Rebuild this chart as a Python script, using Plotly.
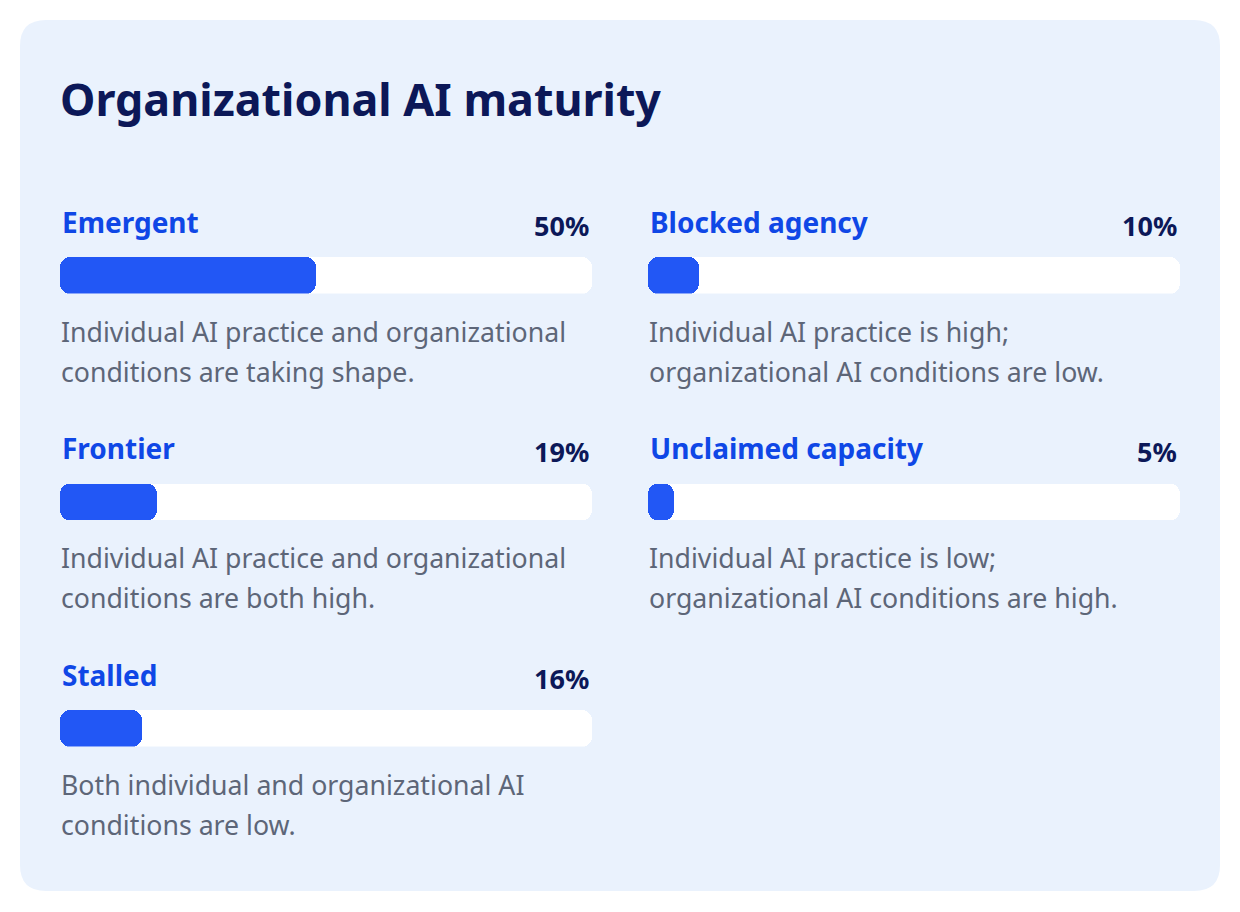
import plotly.graph_objects as go

# ---------------- data ----------------
title_text = "Organizational AI maturity"
categories = ["Emergent", "Frontier", "Stalled", "Blocked agency", "Unclaimed capacity"]
shares = [50, 19, 16, 10, 5]
share_labels = ["50%", "19%", "16%", "10%", "5%"]
desc_line1 = [
    "Individual AI practice and organizational",
    "Individual AI practice and organizational",
    "Both individual and organizational AI",
    "Individual AI practice is high;",
    "Individual AI practice is low;",
]
desc_line2 = [
    "conditions are taking shape.",
    "conditions are both high.",
    "conditions are low.",
    "organizational AI conditions are low.",
    "organizational AI conditions are high.",
]
TRACK_MAX = 104

# ---------------- style ----------------
W, H = 1240, 912
OFF = 8  # page body margin
CARD_BG = "#EAF2FD"
TITLE_COLOR = "#0C1858"
LABEL_COLOR = "#0F47E6"
FILL_COLOR = "#2257F5"
PCT_COLOR = "#0C1858"
DESC_COLOR = "#5D6678"
FONT = "Noto Sans"
RADIUS = 10


def px(x):
    return (x - OFF) / W


def py(y):
    return 1 - (y - OFF) / H


fig = go.Figure()

col_x = [(60, 592), (648, 1180)]
row_step = 226.5
bar_top0 = 257
bar_h = 36.5

annotations = []
axis_count = [0]


def add_bar(value, color, x0, x1, top, hover):
    """One rounded bar from 0 to value, on its own axis pair."""
    axis_count[0] += 1
    k = axis_count[0]
    xa = "x" if k == 1 else f"x{k}"
    ya = "y" if k == 1 else f"y{k}"
    fig.add_trace(go.Bar(x=[value], base=[0], y=[0], orientation="h",
                         xaxis=xa, yaxis=ya,
                         marker=dict(color=color, cornerradius=RADIUS, line=dict(width=0)),
                         hovertemplate=hover, hoverinfo=None if hover else "skip",
                         showlegend=False))
    fig.update_layout(**{
        ("xaxis" if k == 1 else f"xaxis{k}"): dict(domain=[px(x0), px(x1)], range=[0, TRACK_MAX],
                                                   visible=False, fixedrange=True, anchor=ya),
        ("yaxis" if k == 1 else f"yaxis{k}"): dict(domain=[py(top + bar_h), py(top)], range=[-0.5, 0.5],
                                                   visible=False, fixedrange=True, anchor=xa),
    })


for i, cat in enumerate(categories):
    col = 0 if i < 3 else 1
    row = i if i < 3 else i - 3
    x0, x1 = col_x[col]
    top = bar_top0 + row * row_step

    add_bar(TRACK_MAX, "white", x0, x1, top, None)
    add_bar(shares[i], FILL_COLOR, x0, x1, top, f"{cat}: {share_labels[i]}<extra></extra>")

    label_y = top - 35
    annotations.append(dict(text=f"<b>{cat}</b>", x=px(x0), y=py(label_y), xref="paper", yref="paper",
                            xanchor="left", yanchor="middle", showarrow=False,
                            font=dict(family=FONT, size=28, color=LABEL_COLOR)))
    annotations.append(dict(text=f"<b>{share_labels[i]}</b>", x=px(x1 - 1), y=py(label_y + 3),
                            xref="paper", yref="paper", xanchor="right", yanchor="middle",
                            showarrow=False, font=dict(family=FONT, size=27, color=PCT_COLOR)))
    for j, line in enumerate([desc_line1[i], desc_line2[i]]):
        annotations.append(dict(text=line, x=px(x0 - 1), y=py(top + 74 + j * 40), xref="paper", yref="paper",
                                xanchor="left", yanchor="middle", showarrow=False,
                                font=dict(family=FONT, size=26.7, color=DESC_COLOR)))

annotations.append(dict(text=f"<b>{title_text}</b>", x=px(58), y=py(98), xref="paper", yref="paper",
                        xanchor="left", yanchor="middle", showarrow=False,
                        font=dict(family=FONT, size=44.8, color=TITLE_COLOR)))

# rounded card
cx0, cy0, cx1, cy1, r = 20, 20, 1220, 891, 26
rx, ry = r / W, r / H
X0, X1, Y0, Y1 = px(cx0), px(cx1), py(cy1), py(cy0)
path = (f"M {X0+rx},{Y1} L {X1-rx},{Y1} Q {X1},{Y1} {X1},{Y1-ry} "
        f"L {X1},{Y0+ry} Q {X1},{Y0} {X1-rx},{Y0} L {X0+rx},{Y0} Q {X0},{Y0} {X0},{Y0+ry} "
        f"L {X0},{Y1-ry} Q {X0},{Y1} {X0+rx},{Y1} Z")

fig.update_layout(
    width=W, height=H, margin=dict(l=0, r=0, t=0, b=0),
    paper_bgcolor="white", plot_bgcolor="rgba(0,0,0,0)",
    barmode="overlay", bargap=0,
    shapes=[dict(type="path", path=path, xref="paper", yref="paper",
                 fillcolor=CARD_BG, line=dict(width=0), layer="below")],
    annotations=annotations,
    font=dict(family=FONT),
)

fig.write_html("out.html")
